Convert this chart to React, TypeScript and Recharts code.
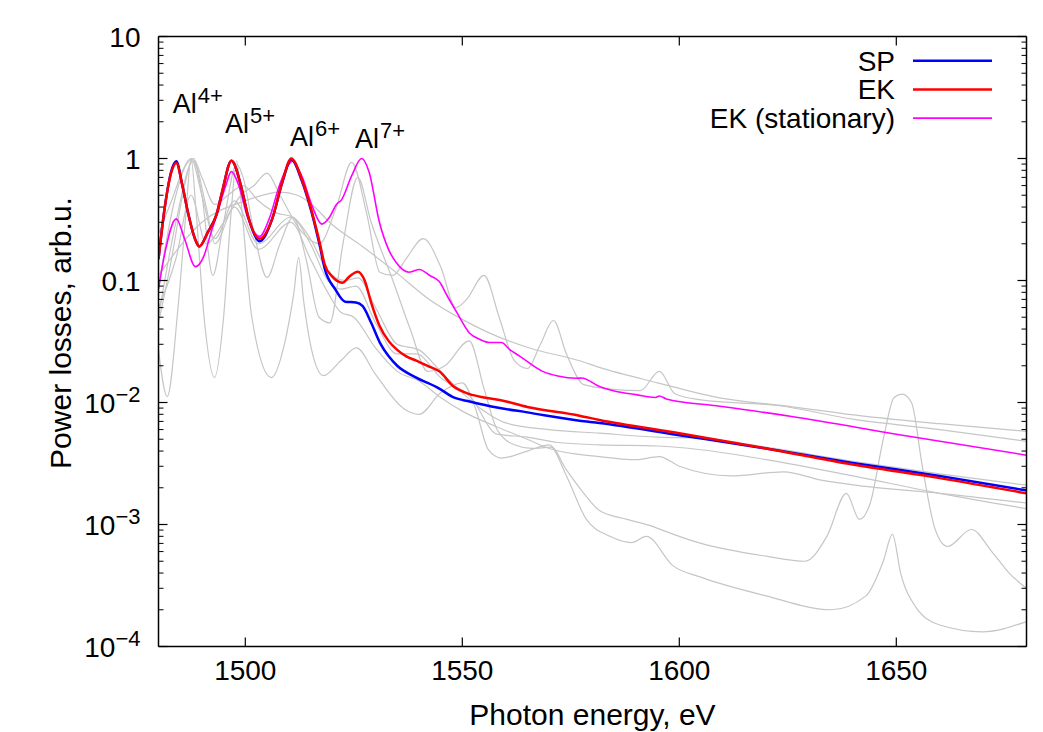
import React from 'react';
import { LineChart, Line, XAxis, YAxis, ReferenceLine, ReferenceDot, Label } from 'recharts';

const FONT = '"Liberation Sans", Arial, Helvetica, sans-serif';

// ---- axis ticks ----
const xTicks = [1500, 1550, 1600, 1650];
const yTicks = [1e-4, 1e-3, 1e-2, 0.1, 1, 10];
const yTickBase = ['10', '10', '10', '0.1', '1', '10'];
const yTickExp = ['\u22124', '\u22123', '\u22122', '', '', ''];

// ---- SP (blue) ----
const spE = [1480, 1481.5, 1483, 1484.1, 1485.5, 1486.8, 1488.4, 1489.4, 1491.4, 1493.4, 1494.8, 1496.8, 1499.2, 1500.6, 1503.3, 1506.2, 1508.5, 1510.6, 1513, 1515.3, 1517.2, 1518.3, 1520.7, 1523, 1525.5, 1527, 1529, 1531, 1533, 1535, 1539.4, 1544.7, 1548, 1551.7, 1558, 1565, 1577, 1581.6, 1600, 1620, 1640, 1660, 1680];
const spV = [0.15, 0.41, 0.8, 0.95, 0.6, 0.36, 0.22, 0.19, 0.25, 0.35, 0.56, 0.96, 0.56, 0.34, 0.21, 0.32, 0.63, 0.98, 0.66, 0.36, 0.19, 0.125, 0.085, 0.067, 0.066, 0.062, 0.045, 0.031, 0.024, 0.02, 0.016, 0.013, 0.011, 0.0102, 0.0091, 0.0083, 0.0071, 0.0068, 0.0054, 0.0042, 0.0032, 0.0025, 0.0019];

// ---- EK (red) ----
const ekE = [1480, 1481.5, 1483, 1484.1, 1485.5, 1486.8, 1488.4, 1489.4, 1491.4, 1493.4, 1494.8, 1496.8, 1499.2, 1500.6, 1503.3, 1506.2, 1508.5, 1510.6, 1513, 1515.3, 1517.2, 1518.3, 1520, 1522.4, 1524, 1525.9, 1527.5, 1529, 1531, 1533, 1535, 1537, 1539.4, 1542, 1544.7, 1548, 1551.7, 1555, 1558.6, 1565, 1577, 1581.6, 1600, 1620, 1640, 1660, 1680];
const ekV = [0.15, 0.41, 0.78, 0.92, 0.6, 0.36, 0.22, 0.19, 0.25, 0.35, 0.56, 0.96, 0.56, 0.34, 0.22, 0.32, 0.64, 1.0, 0.68, 0.37, 0.2, 0.135, 0.108, 0.096, 0.108, 0.118, 0.1, 0.066, 0.042, 0.032, 0.027, 0.024, 0.022, 0.02, 0.018, 0.0135, 0.0117, 0.011, 0.0105, 0.0092, 0.0078, 0.0072, 0.0056, 0.0042, 0.0031, 0.0024, 0.0018];

// ---- EK (stationary) (magenta) ----
const ekstE = [1480, 1481.5, 1484.1, 1486, 1488.5, 1490.5, 1492, 1493.6, 1495.5, 1496.8, 1498.5, 1500.5, 1503.3, 1505.5, 1508, 1510.9, 1513, 1515.5, 1517.6, 1519.4, 1521, 1522.2, 1524.5, 1526.8, 1528.5, 1530.9, 1533, 1534.8, 1537.8, 1540.1, 1542.5, 1544.7, 1546.5, 1548.7, 1551.7, 1554, 1556.3, 1559, 1561, 1563.2, 1568.5, 1572, 1576.3, 1577.5, 1581.6, 1585.5, 1590, 1594.5, 1595.4, 1597, 1608.6, 1627.7, 1650, 1680];
const ekstV = [0.085, 0.17, 0.32, 0.22, 0.13, 0.16, 0.24, 0.36, 0.6, 0.78, 0.6, 0.33, 0.23, 0.32, 0.62, 0.95, 0.72, 0.4, 0.29, 0.33, 0.42, 0.46, 0.72, 1.0, 0.78, 0.3, 0.18, 0.14, 0.117, 0.123, 0.11, 0.098, 0.075, 0.055, 0.037, 0.033, 0.031, 0.031, 0.027, 0.024, 0.018, 0.0165, 0.0158, 0.0159, 0.0135, 0.0123, 0.0116, 0.011, 0.0113, 0.0107, 0.0094, 0.0075, 0.0055, 0.0037];

// ---- grey reference curves ----
const g1E = [1480, 1490, 1500, 1508, 1512, 1516, 1519.4, 1527, 1534.8, 1542.4, 1550, 1557.9, 1565.5, 1577, 1581.6, 1595, 1610, 1623, 1643, 1660, 1680];
const g1V = [0.11, 0.3, 0.45, 0.53, 0.5, 0.4, 0.3, 0.19, 0.116, 0.07, 0.048, 0.035, 0.028, 0.022, 0.0194, 0.0145, 0.0108, 0.0095, 0.0077, 0.0067, 0.0058];

const g2E = [1480, 1484, 1487.5, 1491, 1495, 1499, 1502, 1505, 1508, 1513, 1517, 1521, 1524.5, 1528, 1531, 1534, 1537, 1541, 1545, 1548.5, 1551, 1555, 1558.5, 1562, 1565, 1568, 1571, 1574, 1578, 1585, 1591, 1595.4, 1599, 1605, 1623, 1640, 1660, 1680];
const g2V = [0.06, 0.15, 0.5, 0.2, 0.3, 0.5, 0.6, 0.76, 0.5, 0.25, 0.2, 0.4, 0.93, 0.35, 0.117, 0.11, 0.15, 0.22, 0.13, 0.06, 0.07, 0.11, 0.05, 0.022, 0.019, 0.03, 0.047, 0.025, 0.014, 0.0128, 0.0125, 0.018, 0.0118, 0.0105, 0.0094, 0.0073, 0.006, 0.0048];

const g3E = [1480, 1482, 1484.5, 1486.3, 1487.5, 1488.7, 1490.5, 1492.9, 1495, 1496.7, 1498, 1499.3, 1501.5, 1506, 1509, 1511.2, 1512.3, 1513.4, 1515.5, 1518, 1522, 1525.6, 1530, 1536.7, 1540, 1545, 1550, 1553, 1556, 1559, 1565, 1570, 1574, 1578.6, 1584, 1589, 1592.4, 1598.5, 1605, 1620, 1635, 1643, 1647, 1649.1, 1651, 1654.5, 1660, 1669.8, 1680];
const g3V = [0.027, 0.0112, 0.06, 0.35, 1.0, 0.35, 0.05, 0.016, 0.05, 0.35, 0.95, 0.35, 0.05, 0.016, 0.03, 0.08, 0.155, 0.07, 0.025, 0.0166, 0.022, 0.028, 0.017, 0.0088, 0.008, 0.012, 0.0145, 0.009, 0.0041, 0.0035, 0.004, 0.0045, 0.0025, 0.0011, 0.0008, 0.00071, 0.0008, 0.00046, 0.00037, 0.00026, 0.0002, 0.00026, 0.0005, 0.00083, 0.0004, 0.00021, 0.00015, 0.000132, 0.00016];

const g4E = [1480, 1483, 1486, 1488, 1490, 1492.5, 1495, 1498, 1499.5, 1502, 1505, 1508, 1511, 1514, 1517, 1519.5, 1522.5, 1525.9, 1529, 1534, 1538, 1542, 1546, 1551.6, 1555, 1558, 1562, 1566, 1570.5, 1574, 1578, 1581.6, 1588, 1594, 1595, 1605, 1620, 1629, 1634, 1638.5, 1641.5, 1644, 1647, 1649.5, 1651.4, 1653.5, 1656, 1659, 1661.8, 1667.3, 1672, 1676, 1680];
const g4V = [0.045, 0.15, 0.6, 1.0, 0.5, 0.11, 0.3, 0.9, 0.7, 0.25, 0.106, 0.2, 0.33, 0.15, 0.05, 0.045, 0.2, 0.7, 0.3, 0.1, 0.04, 0.018, 0.02, 0.032, 0.013, 0.006, 0.0045, 0.0042, 0.0043, 0.0028, 0.0018, 0.0013, 0.0011, 0.00096, 0.00093, 0.0007, 0.00055, 0.0005, 0.0008, 0.0018, 0.0011, 0.0015, 0.005, 0.011, 0.0117, 0.01, 0.003, 0.0009, 0.00066, 0.00091, 0.0006, 0.0004, 0.0003];

const g5E = [1480, 1483, 1486, 1488, 1490, 1493, 1496, 1499.5, 1503, 1507, 1511, 1515, 1519, 1523, 1526, 1530, 1535, 1540, 1545, 1550, 1555, 1560, 1570, 1581.6, 1595, 1605, 1620, 1640, 1660, 1680];
const g5V = [0.24, 0.45, 0.85, 1.0, 0.7, 0.42, 0.5, 0.6, 0.45, 0.36, 0.33, 0.22, 0.12, 0.1, 0.105, 0.06, 0.03, 0.027, 0.018, 0.012, 0.0085, 0.0068, 0.006, 0.0056, 0.0052, 0.0051, 0.0043, 0.0033, 0.0026, 0.0021];

const g6E = [1480, 1484, 1487.5, 1490, 1493, 1497.5, 1503, 1510.5, 1515, 1519, 1522, 1525.5, 1530, 1535, 1539.4, 1545, 1552, 1558, 1565, 1572, 1581.6, 1595, 1605, 1620, 1640, 1660, 1680];
const g6V = [0.09, 0.5, 1.0, 0.5, 0.22, 0.45, 0.2, 0.33, 0.2, 0.1, 0.085, 0.09, 0.045, 0.025, 0.025, 0.016, 0.011, 0.0055, 0.0052, 0.0047, 0.0045, 0.0044, 0.0041, 0.0034, 0.0025, 0.0018, 0.00135];

const g7E = [1480, 1484, 1488, 1491, 1493, 1497.5, 1503, 1510.5, 1515, 1519, 1522, 1525, 1530, 1535, 1540, 1545, 1550, 1558, 1565, 1570, 1581.6, 1590, 1595.4, 1600, 1612, 1624, 1633, 1643, 1660, 1680];
const g7V = [0.05, 0.3, 0.95, 0.4, 0.2, 0.4, 0.18, 0.3, 0.15, 0.08, 0.055, 0.05, 0.028, 0.018, 0.015, 0.011, 0.0085, 0.0063, 0.005, 0.0042, 0.0036, 0.0034, 0.0036, 0.003, 0.0025, 0.0027, 0.0023, 0.00205, 0.0018, 0.0015];

// ---- annotations ----
const ionLabels = ['4+', '5+', '6+', '7+'];
const ionX = [1483.3, 1495.3, 1510.3, 1525.3];
const ionY = [2.34, 1.61, 1.266, 1.212];

const legendNames = ['SP', 'EK', 'EK (stationary)'];
const legendColors = ['#0000ff', '#ff0000', '#ff00ff'];
const legendWidths = [2.5, 2.5, 1.6];

const pts = (e: number[], v: number[]) => e.map((x, i) => ({ x, y: v[i] }));

const greySeries = [
  pts(g1E, g1V), pts(g2E, g2V), pts(g3E, g3V), pts(g4E, g4V),
  pts(g5E, g5V), pts(g6E, g6V), pts(g7E, g7V),
];

const X0 = 1480, X1 = 1680, Y0 = 1e-4, Y1 = 10;
const PX_PER_EV = 868 / 200;
const PX_PER_DEC = 122;
const majorDx = 9 / PX_PER_EV;
const minorDx = 5 / PX_PER_EV;
const majorFy = Math.pow(10, 9 / PX_PER_DEC);

const minorY: number[] = [];
for (let k = -4; k <= 0; k++) for (let m = 2; m <= 9; m++) minorY.push(m * Math.pow(10, k));

function YTick(props: any) {
  const { x, y, payload } = props;
  let idx = 0;
  let best = Infinity;
  yTicks.forEach((t, i) => {
    const d = Math.abs(Math.log10(t) - Math.log10(payload.value));
    if (d < best) { best = d; idx = i; }
  });
  return (
    <text x={x - 18} y={y + 10} textAnchor="end" fontFamily={FONT} fontSize={28} fill="#000">
      <tspan>{yTickBase[idx]}</tspan>
      {yTickExp[idx] ? <tspan dy={-11} fontSize={22}>{yTickExp[idx]}</tspan> : null}
    </text>
  );
}

function XTick(props: any) {
  const { x, y, payload } = props;
  return (
    <text x={x} y={y + 33} textAnchor="middle" fontFamily={FONT} fontSize={28} fill="#000">
      {payload.value}
    </text>
  );
}

const XLabel = (props: any) => {
  const vb = props.viewBox;
  return (
    <text x={vb.x + vb.width / 2} y={vb.y + 78} textAnchor="middle" fontFamily={FONT} fontSize={30} fill="#000">
      Photon energy, eV
    </text>
  );
};

const YLabel = (props: any) => {
  const cx = 63;
  const cy = 325;
  return (
    <text x={cx} y={cy} transform={`rotate(-90, ${cx}, ${cy})`} textAnchor="middle" fontFamily={FONT} fontSize={30} fill="#000">
      Power losses, arb.u.
    </text>
  );
};

const makeIonLabel = (i: number) => (props: any) => {
  const vb = props.viewBox;
  return (
    <text x={vb.x} y={vb.y} fontFamily={FONT} fontSize={27} fill="#000">
      <tspan>Al</tspan>
      <tspan dy={-10} dx={1} fontSize={22}>{ionLabels[i]}</tspan>
    </text>
  );
};

const LegendBox = (props: any) => {
  const vb = props.viewBox;
  const cx = vb.x;
  const cy = vb.y;
  return (
    <g>
      {legendNames.map((n, i) => {
        const ly = cy + 24.2 + i * 28.7;
        return (
          <g key={n}>
            <text x={cx - 131.5} y={ly + 10} textAnchor="end" fontFamily={FONT} fontSize={28} fill="#000">{n}</text>
            <line x1={cx - 113.5} x2={cx - 34.5} y1={ly} y2={ly} stroke={legendColors[i]} strokeWidth={legendWidths[i]} />
          </g>
        );
      })}
    </g>
  );
};

export default function App() {
  const tickLines: React.ReactNode[] = [];
  yTicks.forEach((v, i) => {
    tickLines.push(<ReferenceLine key={`yl${i}`} segment={[{ x: X0, y: v }, { x: X0 + majorDx, y: v }]} stroke="#000" strokeWidth={1.2} ifOverflow="visible" />);
    tickLines.push(<ReferenceLine key={`yr${i}`} segment={[{ x: X1 - majorDx, y: v }, { x: X1, y: v }]} stroke="#000" strokeWidth={1.2} ifOverflow="visible" />);
  });
  minorY.forEach((v, i) => {
    tickLines.push(<ReferenceLine key={`ml${i}`} segment={[{ x: X0, y: v }, { x: X0 + minorDx, y: v }]} stroke="#000" strokeWidth={1} ifOverflow="visible" />);
    tickLines.push(<ReferenceLine key={`mr${i}`} segment={[{ x: X1 - minorDx, y: v }, { x: X1, y: v }]} stroke="#000" strokeWidth={1} ifOverflow="visible" />);
  });
  xTicks.forEach((t, i) => {
    tickLines.push(<ReferenceLine key={`xb${i}`} segment={[{ x: t, y: Y0 }, { x: t, y: Y0 * majorFy }]} stroke="#000" strokeWidth={1.2} ifOverflow="visible" />);
    tickLines.push(<ReferenceLine key={`xt${i}`} segment={[{ x: t, y: Y1 / majorFy }, { x: t, y: Y1 }]} stroke="#000" strokeWidth={1.2} ifOverflow="visible" />);
  });

  return (
    <div style={{ width: 1035, height: 724 }}>
      <LineChart width={1035} height={724} margin={{ top: 28.5, right: 16.5, bottom: 0, left: 0 }}>
        <XAxis
          dataKey="x"
          type="number"
          domain={[X0, X1]}
          ticks={xTicks}
          allowDataOverflow
          interval={0}
          tickSize={0}
          tickMargin={0}
          tickLine={false}
          axisLine={{ stroke: '#000', strokeWidth: 1.5 }}
          tick={<XTick />}
          height={85.5}
          label={<Label content={XLabel} />}
        />
        <YAxis
          type="number"
          scale="log"
          domain={[Y0, Y1]}
          ticks={yTicks}
          allowDataOverflow
          interval={0}
          width={150.5}
          tickSize={0}
          tickMargin={0}
          tickLine={false}
          axisLine={{ stroke: '#000', strokeWidth: 1.5 }}
          tick={<YTick />}
          label={<Label content={YLabel} />}
        />
        {greySeries.map((d, i) => (
          <Line key={`g${i}`} data={d} dataKey="y" type="monotone" dot={false} stroke="#c6c6c6" strokeWidth={1.2} isAnimationActive={false} />
        ))}
        <Line data={pts(ekstE, ekstV)} dataKey="y" name="EK (stationary)" type="monotone" dot={false} stroke="#ff00ff" strokeWidth={1.6} isAnimationActive={false} />
        <Line data={pts(spE, spV)} dataKey="y" name="SP" type="monotone" dot={false} stroke="#0000ff" strokeWidth={2.5} isAnimationActive={false} />
        <Line data={pts(ekE, ekV)} dataKey="y" name="EK" type="monotone" dot={false} stroke="#ff0000" strokeWidth={2.5} isAnimationActive={false} />
        <ReferenceLine y={Y1} stroke="#000" strokeWidth={1.5} />
        <ReferenceLine x={X1} stroke="#000" strokeWidth={1.5} />
        {tickLines}
        {ionLabels.map((_, i) => (
          <ReferenceDot key={`ion${i}`} x={ionX[i]} y={ionY[i]} r={0} fill="none" stroke="none" label={makeIonLabel(i)} />
        ))}
        <ReferenceDot x={X1} y={Y1} r={0} fill="none" stroke="none" label={LegendBox} />
      </LineChart>
    </div>
  );
}
